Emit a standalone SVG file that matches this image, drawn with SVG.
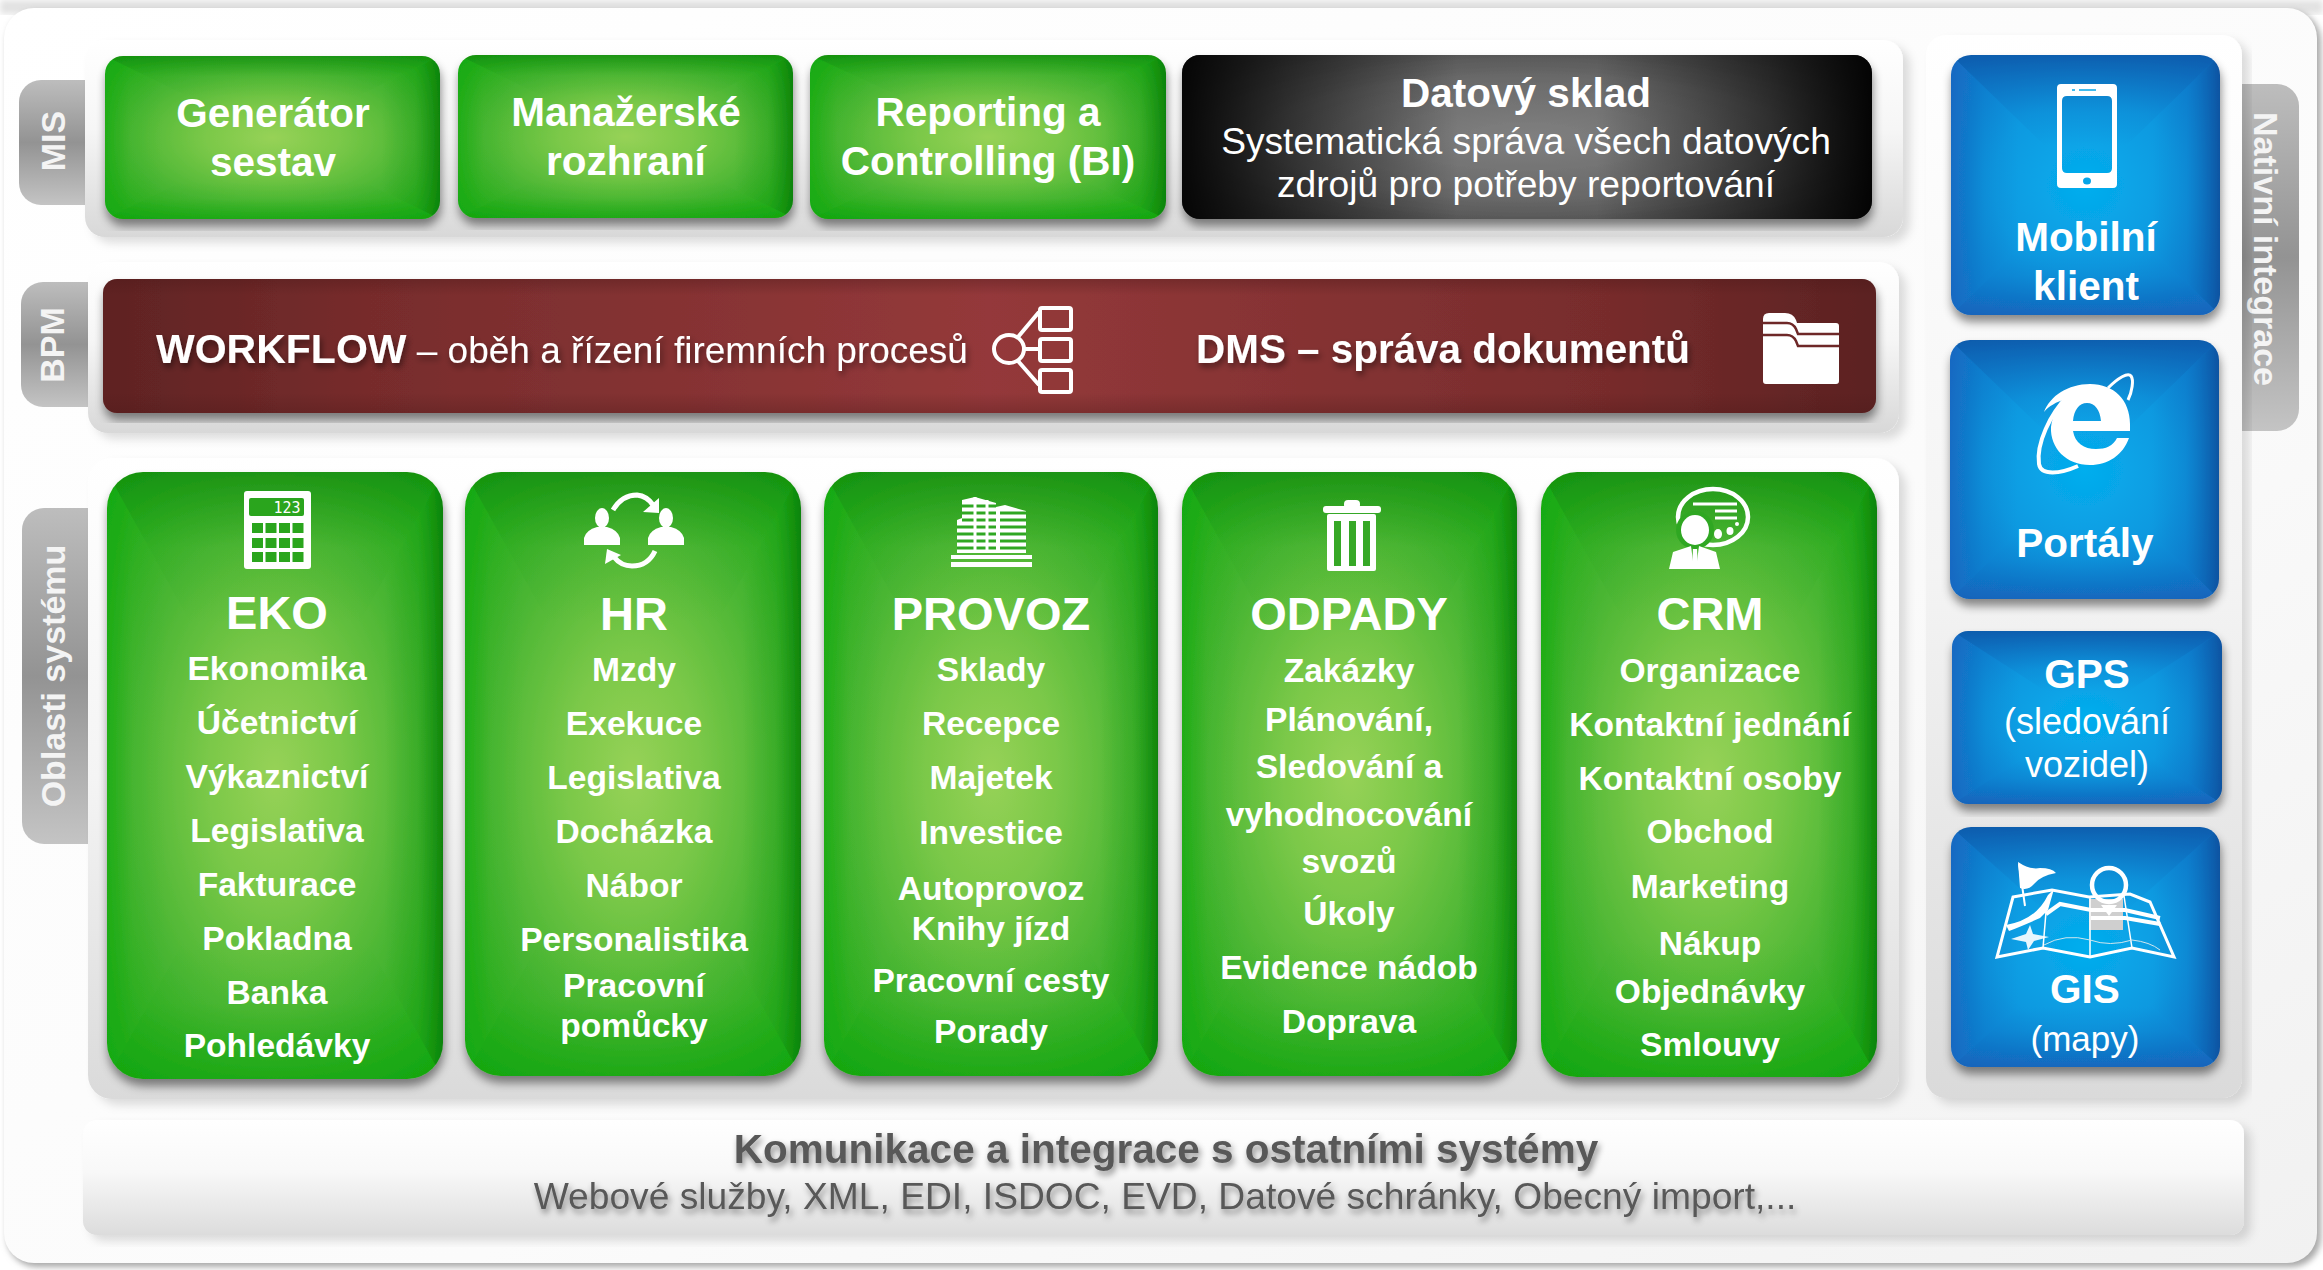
<svg xmlns="http://www.w3.org/2000/svg" width="2323" height="1270" viewBox="0 0 2323 1270">
<style>
text{font-family:"Liberation Sans",Arial,sans-serif;fill:#fff;text-anchor:middle}
.b{font-weight:700}
.t40{font-size:40.500px;font-weight:700}
.t36{font-size:37.200px}
.h{font-size:47px;font-weight:700}
.i{font-size:33.600px;font-weight:700}
.tab{font-size:34px;font-weight:700;fill:#f4f4f4}
.sh{filter:url(#ts)}
.dk{fill:#595959}
.ic{fill:#fff}
.ln{fill:none;stroke:#fff}
</style>
<defs>
<filter id="ts" x="-10%" y="-30%" width="120%" height="170%"><feDropShadow dx="2" dy="4" stdDeviation="3" flood-color="#000" flood-opacity=".45"/></filter>
<filter id="bs" x="-5%" y="-5%" width="110%" height="112%"><feDropShadow dx="1" dy="7" stdDeviation="5" flood-color="#000" flood-opacity=".45"/></filter>
<filter id="ps" x="-3%" y="-5%" width="106%" height="115%"><feDropShadow dx="7" dy="6" stdDeviation="5" flood-color="#000" flood-opacity=".13"/></filter>
<filter id="fr" x="-2%" y="-2%" width="104%" height="104%"><feGaussianBlur stdDeviation="3"/></filter>
<linearGradient id="pan" x1="0" y1="0" x2="0" y2="1"><stop offset="0" stop-color="#fff"/><stop offset=".45" stop-color="#f6f6f6"/><stop offset="1" stop-color="#d8d8d8"/></linearGradient>
<linearGradient id="pan2" x1="0" y1="0" x2="0" y2="1"><stop offset="0" stop-color="#fff"/><stop offset=".5" stop-color="#f4f4f4"/><stop offset="1" stop-color="#dadada"/></linearGradient>
<linearGradient id="bot" x1="0" y1="0" x2="0" y2="1"><stop offset="0" stop-color="#fff"/><stop offset=".45" stop-color="#f8f8f8"/><stop offset="1" stop-color="#dcdcdc"/></linearGradient>
<linearGradient id="main" x1="0" y1="0" x2="1" y2="1"><stop offset="0" stop-color="#fff"/><stop offset=".6" stop-color="#fbfbfb"/><stop offset="1" stop-color="#f1f1f1"/></linearGradient>
<linearGradient id="tabg" x1="0" y1="0" x2="0" y2="1"><stop offset="0" stop-color="#bdbdbd"/><stop offset=".5" stop-color="#939393"/><stop offset="1" stop-color="#c4c4c4"/></linearGradient>

<radialGradient id="gB" r=".68"><stop offset="0" stop-color="#97d257"/><stop offset=".3" stop-color="#7ac848"/><stop offset=".65" stop-color="#48b532"/><stop offset="1" stop-color="#17a912"/></radialGradient>
<linearGradient id="gT" x1="0" y1="0" x2="0" y2="1"><stop offset="0" stop-color="#148a0e" stop-opacity=".75"/><stop offset=".25" stop-color="#1a9a14" stop-opacity=".12"/><stop offset=".5" stop-color="#1a9a14" stop-opacity="0"/></linearGradient>
<linearGradient id="gR" x1="1" y1="0" x2="0" y2="0"><stop offset="0" stop-color="#0b7f08" stop-opacity=".9"/><stop offset=".15" stop-color="#149610" stop-opacity=".3"/><stop offset=".35" stop-color="#149610" stop-opacity="0"/></linearGradient>
<linearGradient id="gD" x1="0" y1="1" x2="0" y2="0"><stop offset="0" stop-color="#12a50e" stop-opacity=".7"/><stop offset=".25" stop-color="#18a912" stop-opacity=".12"/><stop offset=".45" stop-color="#18a912" stop-opacity="0"/></linearGradient>
<linearGradient id="gL" x1="0" y1="0" x2="1" y2="0"><stop offset="0" stop-color="#16ab10" stop-opacity=".7"/><stop offset=".15" stop-color="#18a912" stop-opacity=".12"/><stop offset=".35" stop-color="#18a912" stop-opacity="0"/></linearGradient>
<pattern id="green" patternContentUnits="objectBoundingBox" width="1" height="1">
<rect width="1" height="1" fill="url(#gB)"/>
<polygon points="0,0 1,0 .5,.5" fill="url(#gT)"/><polygon points="1,0 1,1 .5,.5" fill="url(#gR)"/><polygon points="0,1 1,1 .5,.5" fill="url(#gD)"/><polygon points="0,0 0,1 .5,.5" fill="url(#gL)"/>
</pattern>

<radialGradient id="uB" r=".68"><stop offset="0" stop-color="#04aeee"/><stop offset=".5" stop-color="#0b99e0"/><stop offset="1" stop-color="#1272c8"/></radialGradient>
<linearGradient id="uT" x1="0" y1="0" x2="0" y2="1"><stop offset="0" stop-color="#0f58a8" stop-opacity=".85"/><stop offset=".45" stop-color="#1070c0" stop-opacity=".2"/><stop offset=".7" stop-color="#1070c0" stop-opacity="0"/></linearGradient>
<linearGradient id="uR" x1="1" y1="0" x2="0" y2="0"><stop offset="0" stop-color="#104f9c" stop-opacity=".9"/><stop offset=".25" stop-color="#1070c0" stop-opacity=".3"/><stop offset=".5" stop-color="#1070c0" stop-opacity="0"/></linearGradient>
<linearGradient id="uD" x1="0" y1="1" x2="0" y2="0"><stop offset="0" stop-color="#1460b8" stop-opacity=".8"/><stop offset=".3" stop-color="#1070c0" stop-opacity=".2"/><stop offset=".5" stop-color="#1070c0" stop-opacity="0"/></linearGradient>
<linearGradient id="uL" x1="0" y1="0" x2="1" y2="0"><stop offset="0" stop-color="#1666c0" stop-opacity=".8"/><stop offset=".25" stop-color="#1070c0" stop-opacity=".2"/><stop offset=".5" stop-color="#1070c0" stop-opacity="0"/></linearGradient>
<pattern id="blue" patternContentUnits="objectBoundingBox" width="1" height="1">
<rect width="1" height="1" fill="url(#uB)"/>
<polygon points="0,0 1,0 .5,.5" fill="url(#uT)"/><polygon points="1,0 1,1 .5,.5" fill="url(#uR)"/><polygon points="0,1 1,1 .5,.5" fill="url(#uD)"/><polygon points="0,0 0,1 .5,.5" fill="url(#uL)"/>
</pattern>

<linearGradient id="mar" x1="0" y1="0" x2="1" y2="0"><stop offset="0" stop-color="#5f2323"/><stop offset=".15" stop-color="#772c2c"/><stop offset=".5" stop-color="#94393a"/><stop offset=".85" stop-color="#772c2c"/><stop offset="1" stop-color="#5b2222"/></linearGradient>
<linearGradient id="mar2" x1="0" y1="0" x2="0" y2="1"><stop offset="0" stop-color="#4a1818" stop-opacity=".35"/><stop offset=".12" stop-color="#4a1818" stop-opacity="0"/><stop offset=".85" stop-color="#4a1818" stop-opacity="0"/><stop offset="1" stop-color="#4a1818" stop-opacity=".3"/></linearGradient>

<radialGradient id="blk" r=".72"><stop offset="0" stop-color="#808080"/><stop offset=".5" stop-color="#6a6a6a"/><stop offset="1" stop-color="#3c3c3c"/></radialGradient>
<linearGradient id="blkH" x1="0" y1="0" x2="1" y2="0"><stop offset="0" stop-color="#000" stop-opacity=".92"/><stop offset=".15" stop-color="#000" stop-opacity=".55"/><stop offset=".4" stop-color="#000" stop-opacity="0"/><stop offset=".6" stop-color="#000" stop-opacity="0"/><stop offset=".85" stop-color="#000" stop-opacity=".55"/><stop offset="1" stop-color="#000" stop-opacity=".95"/></linearGradient>
</defs>

<rect width="2323" height="1270" fill="#fff"/>
<rect x="0" y="0" width="2323" height="14" fill="#e2e2e2" filter="url(#fr)"/>
<rect x="7" y="11" width="2314" height="1256" rx="30" fill="#a9a9a9" filter="url(#fr)"/>
<rect x="4" y="8" width="2313" height="1255" rx="30" fill="url(#main)"/>

<g id="tab-mis"><rect x="19" y="80" width="100" height="125" rx="22" fill="url(#tabg)"/><text class="tab" transform="translate(65 141) rotate(-90)">MIS</text></g>
<g id="tab-bpm"><rect x="21" y="282" width="100" height="125" rx="22" fill="url(#tabg)"/><text class="tab" transform="translate(64 345) rotate(-90)">BPM</text></g>
<g id="tab-oblasti"><rect x="22" y="508" width="100" height="336" rx="22" fill="url(#tabg)"/><text class="tab" transform="translate(65 676) rotate(-90)">Oblasti systému</text></g>
<g id="tab-native"><rect x="2200" y="84" width="99" height="347" rx="22" fill="url(#tabg)"/><text class="tab" transform="translate(2254 249) rotate(90)">Nativní integrace</text></g>

<g id="panels">
<rect x="85" y="40" width="1818" height="197" rx="20" fill="url(#pan)" filter="url(#ps)"/>
<rect x="88" y="262" width="1811" height="171" rx="20" fill="url(#pan)" filter="url(#ps)"/>
<rect x="88" y="458" width="1811" height="641" rx="24" fill="url(#pan2)" filter="url(#ps)"/>
<rect x="1926" y="35" width="316" height="1063" rx="20" fill="url(#pan2)" filter="url(#ps)"/>
</g>

<g id="generator">
<rect x="105" y="56" width="335" height="163" rx="18" fill="url(#green)" filter="url(#bs)"/>
<text class="t40" x="273" y="127">Generátor</text><text class="t40" x="273" y="176">sestav</text></g>
<g id="manazerske">
<rect x="458" y="55" width="335" height="163" rx="18" fill="url(#green)" filter="url(#bs)"/>
<text class="t40" x="626" y="126">Manažerské</text><text class="t40" x="626" y="175">rozhraní</text></g>
<g id="reporting">
<rect x="810" y="55" width="356" height="164" rx="18" fill="url(#green)" filter="url(#bs)"/>
<text class="t40" x="988" y="126">Reporting a</text><text class="t40" x="988" y="175">Controlling (BI)</text></g>
<g id="datovy-sklad">
<rect x="1182" y="55" width="690" height="164" rx="18" fill="url(#blk)" filter="url(#bs)"/>
<rect x="1182" y="55" width="690" height="164" rx="18" fill="url(#blkH)"/>
<text class="t40" x="1526" y="107">Datový sklad</text>
<text class="t36" x="1526" y="154">Systematická správa všech datových</text>
<text class="t36" x="1526" y="197">zdrojů pro potřeby reportování</text></g>

<g id="bpm-bar">
<rect x="103" y="279" width="1773" height="134" rx="14" fill="url(#mar)" filter="url(#bs)"/>
<rect x="103" y="279" width="1773" height="134" rx="14" fill="url(#mar2)"/>
<text x="156" y="363" class="sh" style="text-anchor:start;font-size:37px"><tspan class="b" style="font-size:41px">WORKFLOW</tspan> – oběh a řízení firemních procesů</text>
<g id="icon-workflow">
<ellipse class="ln" stroke-width="4" cx="1009" cy="349" rx="15" ry="14"/>
<path class="ln" stroke-width="4" d="M1018 337L1039 312M1024 349H1039M1018 361L1039 385"/>
<rect class="ln" stroke-width="4" x="1040" y="308" width="31" height="22" rx="2"/>
<rect class="ln" stroke-width="4" x="1040" y="339" width="31" height="22" rx="2"/>
<rect class="ln" stroke-width="4" x="1040" y="370" width="31" height="22" rx="2"/>
</g>
<text class="sh b" x="1443" y="363" style="font-size:40.400px">DMS – správa dokumentů</text>
<g id="icon-folder">
<path class="ic" d="M1763 319q0-6 6-6h16q8 0 11 7l1 3h39q3 0 3 3v55q0 3-3 3h-70q-3 0-3-3z"/>
<path d="M1763 323h24q6 0 9 6l2 5h41M1763 335h24q6 0 9 6l2 5h41" fill="none" stroke="#6e2828" stroke-width="2.500"/>
</g>
</g>

<g id="eko">
<rect x="107" y="472" width="336" height="607" rx="36" fill="url(#green)" filter="url(#bs)"/>
<g id="icon-calc">
<rect class="ic" x="244" y="491" width="67" height="78" rx="3"/>
<rect x="249" y="498" width="55" height="18" rx="2" fill="#2aa51d"/>
<text x="287" y="513" style="font-family:'DejaVu Sans Mono','Liberation Mono',monospace;font-size:15px">123</text>
<g fill="#2aa51d">
<rect x="252" y="523" width="11" height="10"/><rect x="265.500" y="523" width="11" height="10"/><rect x="279" y="523" width="11" height="10"/><rect x="292.500" y="523" width="11" height="10"/>
<rect x="252" y="538" width="11" height="10"/><rect x="265.500" y="538" width="11" height="10"/><rect x="279" y="538" width="11" height="10"/><rect x="292.500" y="538" width="11" height="10"/>
<rect x="252" y="552" width="11" height="10"/><rect x="265.500" y="552" width="11" height="10"/><rect x="279" y="552" width="11" height="10"/><rect x="292.500" y="552" width="11" height="10"/>
</g></g>
<text class="h" x="277" y="629">EKO</text>
<text class="i" x="277" y="680">Ekonomika</text><text class="i" x="277" y="734">Účetnictví</text><text class="i" x="277" y="788">Výkaznictví</text><text class="i" x="277" y="842">Legislativa</text><text class="i" x="277" y="896">Fakturace</text><text class="i" x="277" y="950">Pokladna</text><text class="i" x="277" y="1004">Banka</text><text class="i" x="277" y="1057">Pohledávky</text>
</g>

<g id="hr">
<rect x="465" y="472" width="336" height="604" rx="36" fill="url(#green)" filter="url(#bs)"/>
<g id="icon-hr">
<g id="person"><ellipse class="ic" cx="602" cy="518" rx="7" ry="10"/><path class="ic" d="M584 545V538Q586 530 597 527H607Q618 530 620 538V545Z"/></g>
<ellipse class="ic" cx="666" cy="518" rx="7" ry="10"/><path class="ic" d="M648 545V538Q650 530 661 527H671Q682 530 684 538V545Z"/>
<path class="ln" stroke-width="5" d="M613 510Q622 495 637 495Q647 496 653 505"/>
<polygon class="ic" points="659,498 643,512 659,513"/>
<path class="ln" stroke-width="5" d="M655 551Q648 566 632 566Q621 566 614 557"/>
<polygon class="ic" points="605,564 607,549 621,555"/>
</g>
<text class="h" x="634" y="630">HR</text>
<text class="i" x="634" y="681">Mzdy</text><text class="i" x="634" y="735">Exekuce</text><text class="i" x="634" y="789">Legislativa</text><text class="i" x="634" y="843">Docházka</text><text class="i" x="634" y="897">Nábor</text><text class="i" x="634" y="951">Personalistika</text><text class="i" x="634" y="997">Pracovní</text><text class="i" x="634" y="1037">pomůcky</text>
</g>

<g id="provoz">
<rect x="824" y="472" width="334" height="604" rx="36" fill="url(#green)" filter="url(#bs)"/>
<g id="icon-building">
<path class="ic" d="M957 553V520L962 518V500L975 497L996 503V553ZM996 553V507L1005 505L1026 511V553Z"/>
<path d="M962 506H996M962 513H996M962 520H996M957 527H996M957 534H996M957 541H996M957 548H996M1000 513H1026M1000 520H1026M1000 527H1026M1000 534H1026M1000 541H1026M1000 548H1026" stroke="#2fa722" stroke-width="3" fill="none"/>
<path d="M975 497V553M987 500V553" stroke="#fff" stroke-width="3" fill="none"/>
<rect class="ic" x="951" y="555" width="81" height="4"/><rect class="ic" x="951" y="562" width="81" height="5"/>
</g>
<text class="h" x="991" y="630">PROVOZ</text>
<text class="i" x="991" y="681">Sklady</text><text class="i" x="991" y="735">Recepce</text><text class="i" x="991" y="789">Majetek</text><text class="i" x="991" y="844">Investice</text><text class="i" x="991" y="900">Autoprovoz</text><text class="i" x="991" y="940">Knihy jízd</text><text class="i" x="991" y="992">Pracovní cesty</text><text class="i" x="991" y="1043">Porady</text>
</g>

<g id="odpady">
<rect x="1182" y="472" width="335" height="604" rx="36" fill="url(#green)" filter="url(#bs)"/>
<g id="icon-trash">
<rect class="ic" x="1344" y="500" width="16" height="9" rx="4"/>
<rect class="ic" x="1323" y="506" width="58" height="7" rx="3"/>
<rect class="ic" x="1327" y="514" width="49" height="57" rx="2"/>
<g fill="#36a826"><rect x="1334" y="521" width="7" height="45"/><rect x="1349" y="521" width="7" height="45"/><rect x="1363" y="521" width="7" height="45"/></g>
</g>
<text class="h" x="1349" y="630">ODPADY</text>
<text class="i" x="1349" y="682">Zakázky</text><text class="i" x="1349" y="731">Plánování,</text><text class="i" x="1349" y="778">Sledování a</text><text class="i" x="1349" y="826">vyhodnocování</text><text class="i" x="1349" y="873">svozů</text><text class="i" x="1349" y="925">Úkoly</text><text class="i" x="1349" y="979">Evidence nádob</text><text class="i" x="1349" y="1033">Doprava</text>
</g>

<g id="crm">
<rect x="1541" y="472" width="336" height="605" rx="36" fill="url(#green)" filter="url(#bs)"/>
<g id="icon-crm">
<ellipse class="ln" stroke-width="4.500" cx="1713" cy="517" rx="35" ry="28"/>
<ellipse cx="1695" cy="530" rx="19" ry="19" fill="#2fa722"/>
<ellipse class="ic" cx="1695" cy="530" rx="14" ry="15"/>
<path class="ln" stroke-width="3" d="M1693 504H1737M1715 511H1737M1715 518H1737"/>
<ellipse class="ic" cx="1718" cy="534" rx="4" ry="5"/><ellipse class="ic" cx="1730" cy="531" rx="3.500" ry="4"/><circle class="ic" cx="1737" cy="524" r="2"/>
<path class="ic" d="M1669 569L1673 552L1691 546L1694 569ZM1696 569L1699 546L1716 552L1720 569Z"/>
<path class="ic" d="M1693 549H1697L1698 569H1692Z"/>
</g>
<text class="h" x="1710" y="630">CRM</text>
<text class="i" x="1710" y="682">Organizace</text><text class="i" x="1710" y="736">Kontaktní jednání</text><text class="i" x="1710" y="790">Kontaktní osoby</text><text class="i" x="1710" y="843">Obchod</text><text class="i" x="1710" y="898">Marketing</text><text class="i" x="1710" y="955">Nákup</text><text class="i" x="1710" y="1003">Objednávky</text><text class="i" x="1710" y="1056">Smlouvy</text>
</g>

<g id="mobilni">
<rect x="1951" y="55" width="269" height="260" rx="20" fill="url(#blue)" filter="url(#bs)"/>
<g id="icon-mobile">
<path class="ic" fill-rule="evenodd" d="M2061 84H2113Q2117 84 2117 88V184Q2117 188 2113 188H2061Q2057 188 2057 184V88Q2057 84 2061 84ZM2067 96Q2062 96 2062 101V168Q2062 173 2067 173H2107Q2112 173 2112 168V101Q2112 96 2107 96Z"/>
<ellipse cx="2087" cy="181" rx="4" ry="3.500" fill="#05a5e8"/>
<path d="M2079 90H2096M2072 90H2075" stroke="#05a5e8" stroke-width="1.500"/>
</g>
<text class="t40" x="2086" y="251">Mobilní</text><text class="t40" x="2086" y="300">klient</text></g>

<g id="portaly">
<rect x="1950" y="340" width="269" height="259" rx="20" fill="url(#blue)" filter="url(#bs)"/>
<g id="icon-ie">
<path class="ic" fill-rule="evenodd" d="M2044 412C2050 396 2068 384 2090 384C2114 384 2130 400 2130 424V431H2073C2075 443 2084 449 2096 449C2106 449 2113 446 2117 438H2129C2123 455 2108 465 2090 465C2066 465 2050 448 2051 427C2052 417 2057 407 2066 399C2056 402 2049 406 2044 412ZM2073 421H2101C2100 410 2095 403 2087 403C2079 403 2074 410 2073 421Z"/>
<path class="ln" stroke-width="3" d="M2108 388C2118 378 2128 372 2131 376C2134 380 2132 392 2128 400"/>
<path class="ln" stroke-width="4" d="M2068 396C2050 414 2036 444 2039 464C2041 476 2060 474 2078 466"/>
</g>
<text class="t40" x="2085" y="557">Portály</text></g>

<g id="gps">
<rect x="1952" y="631" width="270" height="173" rx="16" fill="url(#blue)" filter="url(#bs)"/>
<text class="t40" x="2087" y="688">GPS</text><text class="t36" x="2087" y="734" style="font-size:36px">(sledování</text><text class="t36" x="2087" y="777" style="font-size:36px">vozidel)</text></g>

<g id="gis">
<rect x="1951" y="827" width="269" height="240" rx="20" fill="url(#blue)" filter="url(#bs)"/>
<g id="icon-map">
<rect x="2089" y="899" width="34" height="31" fill="#cfcfcf"/>
<path class="ln" stroke-width="3" d="M2013 897L2052 890L2089 897L2130 894L2150 902L2174 957L2132 948L2090 957L2043 948L1997 957Z"/>
<path class="ln" stroke-width="1.500" d="M2043 948L2047 900M2090 957V897M2132 948L2124 896"/>
<path class="ln" stroke-width="1" d="M2044 945Q2065 933 2090 940Q2110 947 2132 940Q2150 942 2160 950" style="stroke:#cfe6ee"/>
<path class="ic" d="M2006 925Q2036 920 2048 895L2054 889L2048 910L2040 918Q2022 926 2009 931Z"/>
<path class="ln" stroke-width="4" d="M2046 914L2060 904L2091 910H2125L2160 918M2091 918H2125L2160 924"/>
<path class="ic" d="M2018 862Q2030 870 2040 868Q2052 868 2056 873Q2040 876 2034 884Q2028 891 2020 888Z"/>
<path class="ln" stroke-width="2" d="M2019 864L2025 906"/>
<path d="M2101 905L2109 916L2117 905" fill="#fff"/>
<circle class="ln" stroke-width="4.500" cx="2109" cy="885" r="17"/>
<path class="ic" d="M2011 939L2026 934L2030 925L2033 934L2049 937L2034 941L2028 950L2026 942Z" opacity=".9"/>
</g>
<text class="t40" x="2085" y="1003">GIS</text><text x="2085" y="1051" style="font-size:35px">(mapy)</text></g>

<g id="komunikace">
<rect x="83" y="1120" width="2161" height="115" rx="14" fill="url(#bot)" filter="url(#ps)"/>
<text class="t40 dk sh" x="1166" y="1163">Komunikace a integrace s ostatními systémy</text>
<text class="t36 dk sh" x="1165" y="1209">Webové služby, XML, EDI, ISDOC, EVD, Datové schránky, Obecný import,...</text>
</g>
</svg>
